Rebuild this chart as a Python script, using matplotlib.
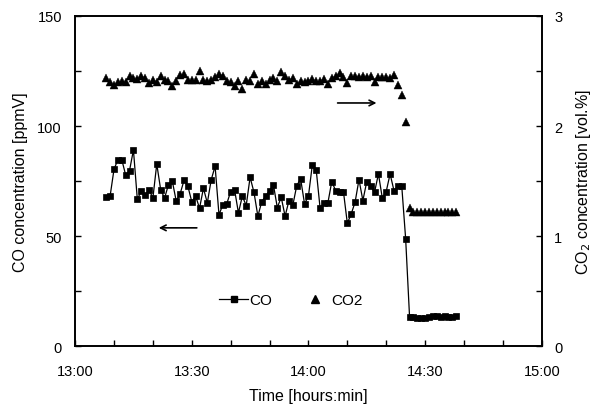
import matplotlib
matplotlib.use("Agg")
import matplotlib.pyplot as plt
from matplotlib.ticker import MultipleLocator
from matplotlib.lines import Line2D
import pandas as pd

plt.rcParams['font.family'] = ['Liberation Sans', 'DejaVu Sans']

# ---- data ----
start_time = "13:08"
sample_step_min = 1

co_ppmv = [67.7, 68.2, 80.3, 84.8, 84.8, 77.8, 79.8, 89.2, 66.8, 70.4,
           68.5, 71.2, 67.3, 82.8, 71.2, 67.3, 73.3, 75.0, 66.0, 69.2,
           75.3, 72.7, 65.7, 68.2, 62.7, 71.8, 65.1, 75.6, 81.8, 59.7,
           64.4, 64.7, 70.3, 71.2, 60.6, 68.2, 63.9, 76.8, 69.9, 59.1,
           65.7, 68.2, 70.7, 73.3, 63.0, 67.7, 59.1, 66.2, 64.2, 73.0,
           76.0, 64.7, 68.2, 82.4, 80.1, 62.7, 65.1, 65.1, 74.8, 70.7,
           70.3, 70.3, 55.9, 60.1, 65.5, 75.7, 66.2, 74.8, 72.7, 70.0,
           78.3, 67.3, 70.3, 78.3, 70.7, 72.7, 72.7, 48.8,
           13.5, 13.5, 13.0, 12.8, 13.0, 13.2, 13.6, 13.7, 13.5, 13.6,
           13.4, 13.5, 13.8]

co2_vol = [2.437, 2.404, 2.374, 2.398, 2.413, 2.398, 2.453, 2.434, 2.428, 2.453,
           2.434, 2.392, 2.422, 2.404, 2.453, 2.422, 2.410, 2.367, 2.410, 2.464,
           2.471, 2.422, 2.422, 2.422, 2.498, 2.422, 2.410, 2.422, 2.446, 2.471,
           2.453, 2.410, 2.398, 2.367, 2.410, 2.337, 2.420, 2.410, 2.471, 2.380,
           2.410, 2.380, 2.422, 2.434, 2.410, 2.489, 2.453, 2.422, 2.434, 2.380,
           2.410, 2.404, 2.410, 2.428, 2.413, 2.410, 2.430, 2.380, 2.440, 2.458,
           2.483, 2.443, 2.392, 2.453, 2.453, 2.443, 2.453, 2.443, 2.453, 2.398,
           2.443, 2.443, 2.443, 2.440, 2.464, 2.374, 2.280, 2.040,
           1.256, 1.224, 1.222, 1.224, 1.222, 1.224, 1.222, 1.224, 1.222, 1.224,
           1.222, 1.224, 1.222]

xtick_labels = ["13:00", "13:30", "14:00", "14:30", "15:00"]
left_yticks = [0, 50, 100, 150]
right_yticks = [0, 1, 2, 3]

# ---- time axis (minutes since 13:00) ----
times = pd.date_range("2000-01-01 " + start_time, periods=len(co_ppmv),
                      freq=f"{sample_step_min}min")
t0 = pd.Timestamp("2000-01-01 13:00")
x = [(t - t0).total_seconds() / 60.0 for t in times]
xticks = [(pd.Timestamp("2000-01-01 " + s) - t0).total_seconds() / 60.0
          for s in xtick_labels]

fig = plt.figure(figsize=(5.96, 4.14), dpi=100)
ax = fig.add_axes([0.126, 0.161, 0.783, 0.798])
ax2 = ax.twinx()

ax.plot(x, co_ppmv, color='black', lw=0.9, marker='s', ms=5,
        markeredgewidth=0.5, zorder=3)
ax2.plot(x, co2_vol, linestyle='none', color='black', marker='^', ms=5.3,
         markeredgewidth=0.3, zorder=3)

ax.set_xlim(xticks[0], xticks[-1])
ax.set_ylim(0, 150)
ax2.set_ylim(0, 3)

ax.set_xticks(xticks)
ax.set_xticklabels(xtick_labels)
ax.xaxis.set_minor_locator(MultipleLocator(10))
ax.set_yticks(left_yticks)
ax.yaxis.set_minor_locator(MultipleLocator(25))
ax2.set_yticks(right_yticks)
ax2.yaxis.set_minor_locator(MultipleLocator(0.5))

for a in (ax, ax2):
    a.tick_params(which='both', direction='in', labelsize=10.5, width=1)
    a.tick_params(which='major', length=4)
    a.tick_params(which='minor', length=4)
    for s in a.spines.values():
        s.set_linewidth(1.2)
ax.tick_params(axis='x', pad=13)
ax.tick_params(axis='y', pad=9.5)
ax2.tick_params(axis='y', pad=9)

ax.set_xlabel("Time [hours:min]", fontsize=11.5, labelpad=7)
ax.set_ylabel("CO concentration [ppmV]", fontsize=11.5, labelpad=7)
ax2.set_ylabel("CO$_2$ concentration [vol.%]", fontsize=11.5, labelpad=8,
               rotation=90)

# arrows
ax.annotate("", xy=(21.5, 53.8), xytext=(31.3, 53.8),
            arrowprops=dict(arrowstyle='->', color='black', lw=1.2,
                            shrinkA=0, shrinkB=0))
ax2.annotate("", xy=(77.5, 2.21), xytext=(67.5, 2.21),
             arrowprops=dict(arrowstyle='->', color='black', lw=1.2,
                             shrinkA=0, shrinkB=0))

handles = [Line2D([], [], color='black', lw=0.9, marker='s', ms=5),
           Line2D([], [], color='black', ls='none', marker='^', ms=5.3)]
ax.legend(handles, ["CO", "CO2"], loc='center', bbox_to_anchor=(0.462, 0.14),
          ncol=2, frameon=False, fontsize=11, handlelength=1.9,
          handletextpad=0.05, columnspacing=1.9)

fig.savefig("out.png", dpi=100)
